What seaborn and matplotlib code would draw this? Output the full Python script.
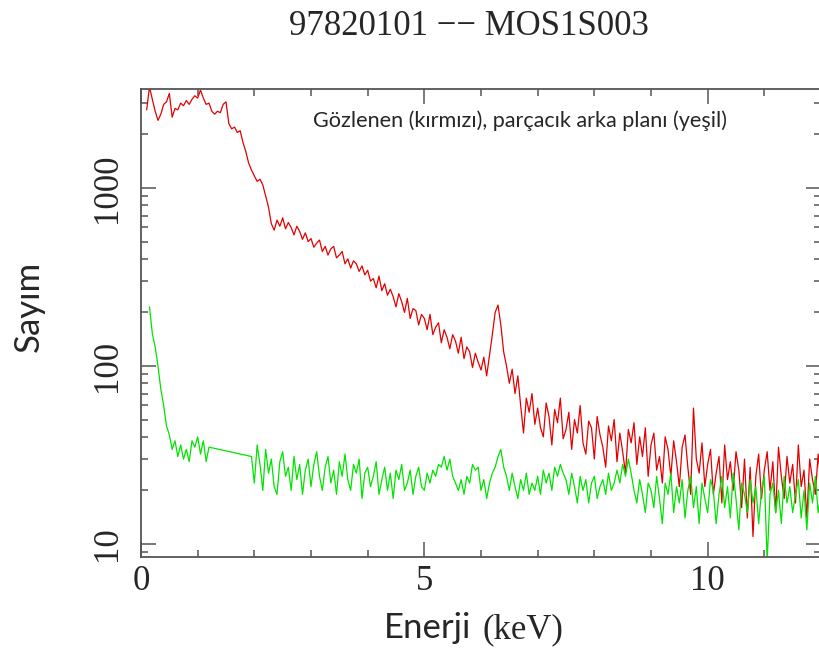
import numpy as np
import pandas as pd
import matplotlib
matplotlib.use("Agg")
import matplotlib.pyplot as plt
import seaborn as sns
from matplotlib.ticker import MultipleLocator, LogLocator, NullFormatter

# ---------------------------------------------------------------------------
# Spectra (counts per 0.05 keV channel)
# ---------------------------------------------------------------------------
channel_width = 0.05

# Observed source spectrum, channels from 0.10 keV up to 12.00 keV
observed_start = 0.10
observed_counts = [
    # 0.10 - 0.95
    2750, 3700, 3150, 2700, 2400, 2600, 2950, 3050, 3400, 2500,
    2800, 2750, 3000, 2900, 3100, 2950, 3150, 3300,
    # 1.00 - 1.95
    3200, 3550, 3200, 2950, 3000, 2700, 2600, 2700, 2650, 2950,
    3050, 2300, 2150, 2200, 2050, 2100, 1800, 1600, 1380, 1260,
    # 2.00 - 2.95
    1170, 1090, 1120, 1040, 900, 780, 630, 580, 660, 610,
    680, 590, 640, 600, 545, 610, 570, 515, 560, 500,
    # 3.00 - 3.95
    520, 465, 490, 510, 440, 470, 420, 455, 470, 405,
    420, 440, 375, 400, 355, 390, 375, 340, 365, 325,
    # 4.00 - 4.95
    345, 300, 310, 275, 320, 265, 290, 250, 270, 245,
    215, 255, 230, 200, 240, 185, 210, 205, 170, 195,
    # 5.00 - 5.95
    185, 160, 195, 150, 165, 175, 135, 160, 145, 125,
    150, 138, 118, 145, 110, 128, 120, 98, 118, 105,
    # 6.00 - 6.95
    95, 112, 88, 115, 150, 200, 220, 170, 120, 100,
    80, 96, 70, 88, 60, 42, 66, 55, 70, 47,
    # 7.00 - 7.95
    58, 45, 40, 62, 52, 36, 57, 48, 66, 39,
    44, 55, 34, 50, 42, 60, 37, 32, 49, 45,
    # 8.00 - 8.95
    30, 52, 41, 35, 27, 46, 38, 50, 29, 42,
    33, 25, 44, 37, 48, 28, 40, 31, 45, 24,
    # 9.00 - 9.95
    36, 42, 26, 31, 22, 40, 34, 24, 38, 29,
    21, 35, 41, 27, 19, 58, 30, 25, 37, 21,
    # 10.00 - 10.95
    28, 34, 19, 25, 31, 17, 36, 23, 29, 20,
    33, 26, 16, 30, 14, 27, 11, 24, 32, 18,
    # 11.00 - 11.95
    26, 33, 20, 29, 15, 35, 24, 18, 31, 22,
    28, 17, 36, 21, 26, 14, 30, 23, 19, 32,
    # 12.00
    22,
]

# Particle background, low-energy part (0.15 - 1.20 keV)
background_low_start = 0.15
background_low_counts = [
    215, 152, 128, 100, 74, 60, 46, 41, 34, 38,
    31, 36, 30, 34, 29, 38, 35, 40, 32, 38,
    29, 35,
]

# Particle background, high-energy part (1.95 - 12.00 keV)
background_high_start = 1.95
background_high_counts = [
    31,
    22, 36, 28, 20, 34, 25, 30, 21, 19, 29, 33, 24, 27, 20, 31, 23, 28, 19, 26, 30,
    21, 28, 33, 24, 20, 27, 31, 22, 26, 19, 29, 24, 32, 23, 20, 28, 25, 30, 18, 25,
    27, 21, 24, 29, 19, 23, 27, 20, 25, 18, 26, 23, 28, 20, 22, 26, 19, 24, 27, 21,
    20, 25, 22, 26, 24, 28, 27, 31, 26, 30, 24, 22, 20, 23, 19, 24, 22, 28, 26, 27,
    20, 23, 18, 22, 25, 27, 31, 34, 27, 24, 20, 25, 21, 18, 23, 20, 25, 19, 22, 20,
    24, 19, 26, 22, 25, 20, 27, 24, 28, 25, 23, 19, 25, 21, 17, 24, 20, 23, 17, 22,
    24, 18, 21, 23, 19, 25, 20, 22, 26, 22, 28, 24, 30, 25, 20, 17, 23, 19, 15, 22,
    20, 16, 24, 18, 13, 22, 19, 25, 15, 21, 17, 23, 14, 20, 24, 16, 21, 13, 22, 18,
    15, 23, 20, 13, 19, 24, 16, 21, 14, 25, 18, 12, 22, 19, 15, 23, 17, 21, 13, 20,
    24, 8, 19, 22, 15, 20, 13, 24, 17, 21, 15, 19, 23, 14, 20, 12, 22, 17, 24, 15,
    19,
]

x_major_ticks = [0, 5, 10]
x_tick_labels = ["0", "5", "10"]
y_major_ticks = [10, 100, 1000]
y_tick_labels = ["10", "100", "1000"]

title_text = "97820101 \u2212\u2212 MOS1S003"
note_text = "Gözlenen (kırmızı), parçacık arka planı (yeşil)"


def channels(start, counts):
    e = start + channel_width * np.arange(len(counts))
    return pd.DataFrame({"energy": e, "counts": np.asarray(counts, float)})


observed = channels(observed_start, observed_counts)
background = pd.concat(
    [channels(background_low_start, background_low_counts),
     channels(background_high_start, background_high_counts)],
    ignore_index=True,
)

# ---------------------------------------------------------------------------
# Figure
# ---------------------------------------------------------------------------
sns.set_style("ticks")
plt.rcParams["font.family"] = ["Liberation Serif", "DejaVu Serif"]

W, H = 819, 653
fig = plt.figure(figsize=(W / 100, H / 100), dpi=100)
ax = fig.add_axes([141 / W, 1 - 557 / H, (821 - 141) / W, (557 - 89) / H])

red = "#e40000"
green = "#00e400"
sns.lineplot(data=observed, x="energy", y="counts", ax=ax, color=red,
             lw=0.9, estimator=None, sort=False)
sns.lineplot(data=background, x="energy", y="counts", ax=ax, color=green,
             lw=0.9, estimator=None, sort=False)

ax.set_yscale("log")
ax.set_xlim(0, 12)
ax.set_ylim(8.45, 3600)

ax.set_xticks(x_major_ticks)
ax.set_xticklabels(x_tick_labels, fontsize=25)
ax.xaxis.set_minor_locator(MultipleLocator(1))
ax.set_yticks(y_major_ticks)
ax.set_yticklabels(y_tick_labels, fontsize=25, rotation=90, va="center")
ax.yaxis.set_minor_locator(LogLocator(base=10, subs=range(2, 10)))
ax.yaxis.set_minor_formatter(NullFormatter())

spine_color = "#555555"
for s in ax.spines.values():
    s.set_color(spine_color)
    s.set_linewidth(1.3)
ax.tick_params(which="both", direction="in", top=True, right=True,
               color=spine_color, width=1.1)
ax.tick_params(which="major", length=10.5)
ax.tick_params(which="minor", length=5)
ax.tick_params(axis="x", which="major", pad=6)
ax.tick_params(axis="y", which="major", pad=12)

ax.set_xlabel("")
ax.set_ylabel("")


# Texts placed in figure pixel coordinates
def fx(px):
    return px / W


def fy(py):
    return 1 - py / H


fig.text(fx(469), fy(35), title_text, ha="center", va="baseline",
         fontsize=25, family="Liberation Serif")
fig.text(fx(313), fy(127), note_text, ha="left", va="baseline",
         fontsize=15.6, family="Lato")
fig.text(fx(471), fy(638), "Enerji", ha="right", va="baseline",
         fontsize=25, family="Lato")
fig.text(fx(482), fy(638), "(keV)", ha="left", va="baseline",
         fontsize=25, family="Liberation Serif")
fig.text(fx(29), fy(306), "Sayım", ha="center", va="center", rotation=90,
         fontsize=25, family="Lato")

fig.savefig("out.png", dpi=100)
